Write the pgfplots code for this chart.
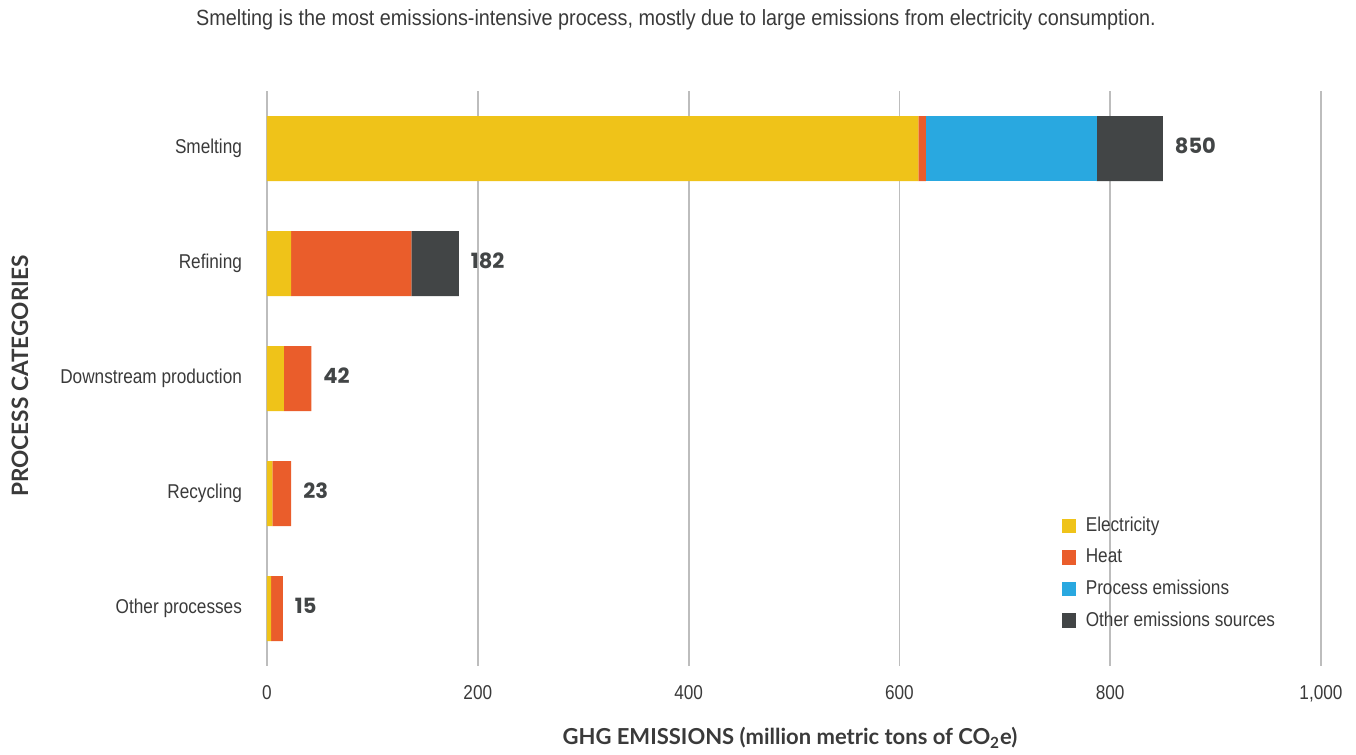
\documentclass[border=0pt]{standalone}
\usepackage{fontspec}
\setmainfont{Liberation Sans}[FakeStretch=0.86]
\newfontfamily\titlefont{Liberation Sans}[FakeStretch=0.90]
\newfontfamily\heavyfont{Lato}
\newfontfamily\numfont{Poppins}
\usepackage{pgfplots}
\pgfplotsset{compat=1.18}
\usepackage{pgfplotstable}

\definecolor{cElec}{HTML}{EFC319}
\definecolor{cHeat}{HTML}{EA5D2B}
\definecolor{cProc}{HTML}{29A8E0}
\definecolor{cOther}{HTML}{424546}
\definecolor{cGrid}{HTML}{BDBDBD}
\definecolor{cText}{HTML}{3A3A3A}

% Emissions by process (million metric tons CO2e)
\pgfplotstableread{
idx elec heat proc other total
0   618  7    162  63    850
1   23   114  0    45    182
2   16   26   0    0     42
3   5    18   0    0     23
4   4    11   0    0     15
}\emissions

\pgfplotsset{
  frame/.style={
    at={(133.5pt,44.5pt)}, anchor=south west,
    scale only axis, width=527pt, height=287.5pt,
    xmin=0, xmax=1000, ymin=-0.5, ymax=4.5, y dir=reverse,
  }
}

\begin{document}
\begin{tikzpicture}
\path[use as bounding box] (0,0) rectangle (678pt,377.5pt);

\node[font=\titlefont\fontsize{11}{13}\selectfont, text=cText] at (338pt,367.5pt)
  {Smelting is the most emissions-intensive process, mostly due to large emissions from electricity consumption.};

\begin{axis}[
  frame,
  xbar stacked, bar width=32.5pt,
  ytick={0,1,2,3,4},
  yticklabels={Smelting,Refining,Downstream production,Recycling,Other processes},
  xtick={0,200,400,600,800,1000},
  xticklabels={0,200,400,600,800,{1,000}},
  axis line style={draw=none},
  major tick length=0pt,
  xmajorgrids, grid style={cGrid, line width=0.9pt},
  tick label style={font=\fontsize{10}{12}\selectfont, text=cText},
  xticklabel style={yshift=-6pt},
  yticklabel style={xshift=-9pt},
  every axis plot/.append style={draw=none},
  legend style={at={(axis cs:748,3.135)}, anchor=north west, draw=none, fill=none,
    font=\fontsize{10}{12}\selectfont, text=cText,
    row sep=3.1pt, cells={anchor=west}},
  legend image code/.code={\fill[#1] (0pt,-3.6pt) rectangle (7pt,3.6pt); \path (10pt,0pt);},
]
\addplot[fill=cElec] table[x=elec, y=idx] {\emissions};
\addlegendentry{Electricity}
\addplot[fill=cHeat] table[x=heat, y=idx] {\emissions};
\addlegendentry{Heat}
\addplot[fill=cProc] table[x=proc, y=idx] {\emissions};
\addlegendentry{Process emissions}
\addplot[fill=cOther] table[x=other, y=idx] {\emissions};
\addlegendentry{Other emissions sources}
\end{axis}

% total labels at the end of each bar
\begin{axis}[
  frame, hide axis,
]
\addplot[draw=none, mark=none, point meta=explicit symbolic,
  nodes near coords={\pgfplotspointmeta},
  nodes near coords style={anchor=west, xshift=2.5pt, yshift=1.2pt,
    font=\numfont\bfseries\fontsize{10.5}{12}\selectfont, text=cOther}]
  table[x=total, y=idx, meta=total] {\emissions};
\end{axis}

\node[rotate=90, font=\heavyfont\bfseries\fontsize{11.3}{13}\selectfont, text=cText] at (10pt,189.5pt)
  {PROCESS CATEGORIES};
\node[font=\heavyfont\bfseries\fontsize{11}{13}\selectfont, text=cText] at (395pt,8.5pt)
  {GHG EMISSIONS (million metric tons of CO\textsubscript{2}e)};
\end{tikzpicture}
\end{document}
